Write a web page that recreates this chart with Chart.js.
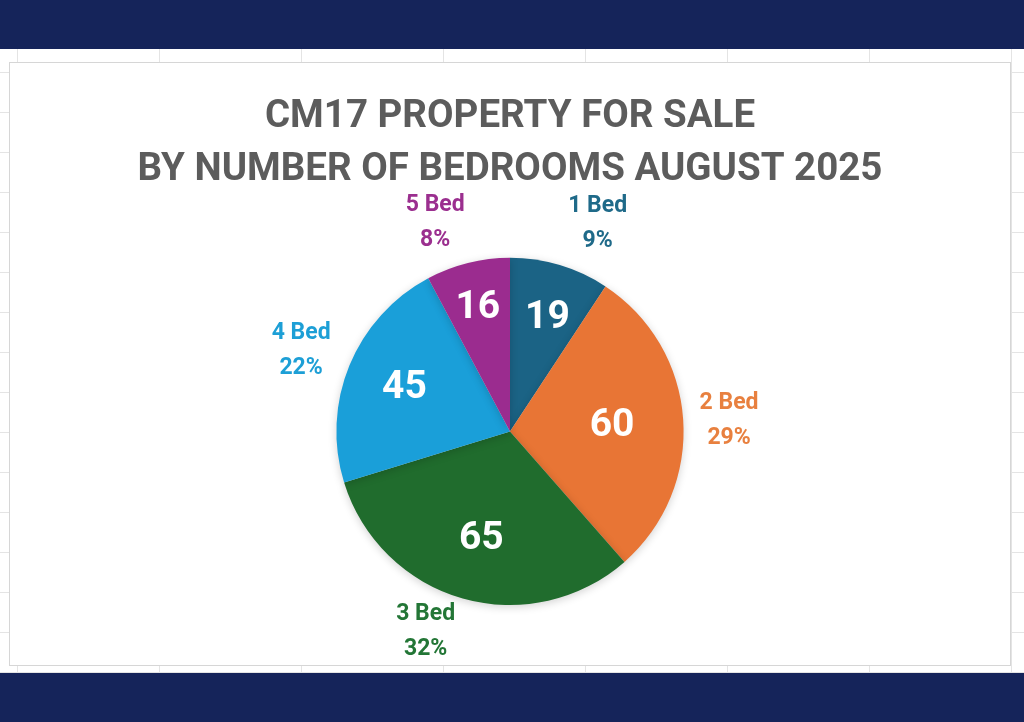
<!DOCTYPE html>
<html lang="en">
<head>
    <meta charset="UTF-8">
    <script src="https://cdn.jsdelivr.net/npm/chart.js"></script>
    <title>CM17 Property for Sale</title>
    <style>
        html, body {
            margin: 0;
            padding: 0;
            width: 1024px;
            height: 722px;
            overflow: hidden;
            font-family: Roboto, sans-serif;
        }
        body {
            position: relative;
            background-color: #ffffff;
            background-image:
                linear-gradient(to right, #e4e4e4 1px, transparent 1px),
                linear-gradient(to bottom, #e4e4e4 1px, transparent 1px);
            background-size: 142px 40px;
            background-position: 17px 32px;
        }
        .navy-top, .navy-bottom {
            position: absolute;
            left: 0;
            width: 1024px;
            background: #15245a;
        }
        .navy-top { top: 0; height: 49px; }
        .navy-bottom { top: 673px; height: 49px; }
        .chart-box {
            position: absolute;
            left: 9px;
            top: 62px;
            width: 1000px;
            height: 602px;
            background: #ffffff;
            border: 1px solid #d6d6d6;
        }
    </style>
</head>
<body>
    <div class="navy-top"></div>
    <div class="chart-box">
        <canvas id="pieChart"></canvas>
    </div>
    <div class="navy-bottom"></div>

    <script>
        // data
        const categories = ["1 Bed", "2 Bed", "3 Bed", "4 Bed", "5 Bed"];
        const counts = [19, 60, 65, 45, 16];
        const sliceColours = ["#1b6385", "#e87535", "#206c2d", "#1a9fd9", "#9b2c8f"];
        const labelColours = ["#1f6a89", "#e8803f", "#237636", "#1d9fd6", "#9b2f8f"];
        const titleLines = ["CM17 PROPERTY FOR SALE", "BY NUMBER OF BEDROOMS AUGUST 2025"];

        const total = counts.reduce((a, b) => a + b, 0);

        // soft shadow round the pie
        const pieShadow = {
            id: "pieShadow",
            beforeDatasetsDraw(chart) {
                const ctx = chart.ctx;
                ctx.save();
                ctx.shadowColor = "rgba(0, 0, 0, 0.18)";
                ctx.shadowBlur = 8;
                ctx.shadowOffsetY = 2;
            },
            afterDatasetsDraw(chart) {
                chart.ctx.restore();
            }
        };

        // draws the counts inside the slices and the name / percent outside
        const sliceLabels = {
            id: "sliceLabels",
            afterDatasetsDraw(chart, args, opts) {
                const ctx = chart.ctx;
                const arcs = chart.getDatasetMeta(0).data;
                ctx.save();
                ctx.textAlign = "center";
                ctx.textBaseline = "middle";
                arcs.forEach((arc, i) => {
                    const p = arc.getProps(["x", "y", "startAngle", "endAngle", "outerRadius"], true);
                    const mid = (p.startAngle + p.endAngle) / 2;
                    const inNudge = opts.inside[i] || [0, 0];
                    const outNudge = opts.outside[i] || [0, 0];

                    // value inside
                    const rIn = p.outerRadius * 0.67;
                    ctx.fillStyle = "#ffffff";
                    ctx.font = "bold 39px Roboto, sans-serif";
                    ctx.fillText(String(counts[i]),
                        p.x + Math.cos(mid) * rIn + inNudge[0],
                        p.y + Math.sin(mid) * rIn + inNudge[1]);

                    // name and percentage outside
                    const rOut = p.outerRadius + 48;
                    const lx = p.x + Math.cos(mid) * rOut + outNudge[0];
                    const ly = p.y + Math.sin(mid) * rOut + outNudge[1];
                    const pct = Math.round(counts[i] / total * 100) + "%";
                    ctx.fillStyle = labelColours[i];
                    ctx.font = "bold 23px Roboto, sans-serif";
                    ctx.fillText(categories[i], lx, ly - 17);
                    ctx.fillText(pct, lx, ly + 18);
                });
                ctx.restore();
            }
        };

        new Chart(document.getElementById("pieChart").getContext("2d"), {
            type: "pie",
            data: {
                labels: categories,
                datasets: [{
                    data: counts,
                    backgroundColor: sliceColours,
                    borderWidth: 0
                }]
            },
            options: {
                responsive: true,
                maintainAspectRatio: false,
                animation: false,
                layout: {
                    padding: { top: 0, bottom: 60, left: 0, right: 0 }
                },
                plugins: {
                    legend: { display: false },
                    tooltip: { enabled: false },
                    title: {
                        display: true,
                        text: titleLines,
                        color: "#5c5c5c",
                        font: { family: "Roboto, sans-serif", size: 38.5, weight: "bold", lineHeight: 1.4 },
                        padding: { top: 27, bottom: 60 }
                    },
                    sliceLabels: {
                        inside: [[4, -2], [-14, 3], [3, -4], [2, 1], [-4, -10]],
                        outside: [[24, 4], [-2, 4], [-24, -13], [-4, 3], [-21, 6]]
                    }
                }
            },
            plugins: [pieShadow, sliceLabels]
        });
    </script>
</body>
</html>
